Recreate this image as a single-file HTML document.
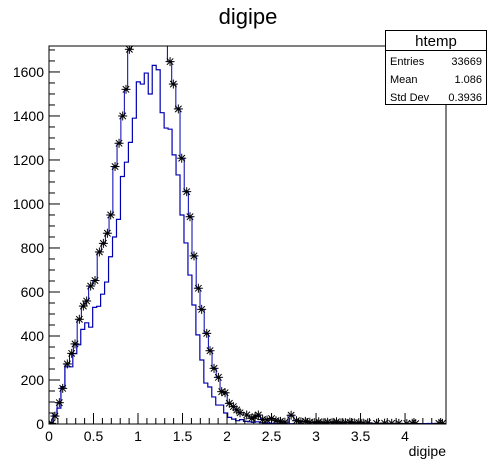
<!DOCTYPE html>
<html><head><meta charset="utf-8"><style>
body{margin:0;background:#fff;}
svg{display:block;font-family:"Liberation Sans",Arial,sans-serif;}
</style></head><body>
<svg id="c" width="496" height="472" viewBox="0 0 496 472" xmlns="http://www.w3.org/2000/svg">
<rect width="496" height="472" fill="#fff"/>
<text x="248" y="24" font-size="22" text-anchor="middle">digipe</text>
<defs><clipPath id="pc"><rect x="49" y="46" width="397" height="378"/></clipPath></defs>
<g id="plot" clip-path="url(#pc)"></g>
<g id="axes"></g>
<rect x="49" y="46" width="397" height="378" fill="none" stroke="#000" stroke-width="1"/>
<g>
<rect x="385.5" y="30.5" width="101" height="74" fill="#fff" stroke="#000"/>
<line x1="385.5" y1="50.5" x2="486.5" y2="50.5" stroke="#000"/>
<text x="436" y="46" font-size="15" text-anchor="middle">htemp</text>
<text x="390" y="65" font-size="11">Entries</text><text x="482" y="65" font-size="11" text-anchor="end">33669</text>
<text x="390" y="83" font-size="11">Mean</text><text x="482" y="83" font-size="11" text-anchor="end">1.086</text>
<text x="390" y="101" font-size="11">Std Dev</text><text x="482" y="101" font-size="11" text-anchor="end">0.3936</text>
</g>
<text x="446" y="456" font-size="14" text-anchor="end">digipe</text>
</svg>
<script>
const xTicks=[0,0.5,1,1.5,2,2.5,3,3.5,4];
const xTickLabels=["0","0.5","1","1.5","2","2.5","3","3.5","4"];
const yTicks=[0,200,400,600,800,1000,1200,1400,1600];
const yTickLabels=["0","200","400","600","800","1000","1200","1400","1600"];
const binWidth=0.0446;
const blueCounts=[5,40,72,170,260,260,320,360,430,460,440,530,535,590,645,760,850,930,1125,1190,1280,1390,1555,1545,1595,1500,1630,1610,1415,1345,1340,1223,1132,950,823,677,541,405,291,186,168,123,86,86,50,30,22,15,20,12,10,8,10,6,5,4,3,3,2,2,1,1,0,1,0,1,0,0,1,0,0,0,0,0,0,0,0,0,0,0,0,0,0,0,0,0,0,0,0,0,0,0,0,0,0,0,0,0,0,0];
const starX=[0.030,0.067,0.116,0.154,0.206,0.255,0.292,0.341,0.386,0.423,0.468,0.517,0.566,0.611,0.656,0.693,0.742,0.787,0.828,0.865,0.903,0.95,1.0,1.05,1.1,1.15,1.2,1.25,1.30,1.360,1.397,1.453,1.491,1.547,1.584,1.629,1.678,1.715,1.772,1.809,1.854,1.903,1.940,1.978,2.026,2.071,2.109,2.146,2.221,2.278,2.315,2.352,2.40,2.45,2.50,2.55,2.60,2.65,2.72,2.78,2.83,2.88,2.93,2.98,3.03,3.08,3.13,3.18,3.23,3.28,3.33,3.38,3.43,3.48,3.53,3.58,3.68,3.77,3.85,3.93,4.02,4.08,4.12,4.38,4.42];
const starY=[3,36,97,162,273,321,364,476,536,559,627,652,782,821,867,950,1170,1276,1400,1521,1703,1900,1900,1900,1900,1900,1900,1900,1900,1647,1545,1432,1208,1056,942,764,617,521,412,333,253,212,147,142,94,79,64,51,41,26,33,41,20,18,25,15,12,8,40,15,10,12,8,6,10,5,8,6,10,5,6,8,5,6,4,5,3,4,3,3,2,3,2,3,3];
const NS="http://www.w3.org/2000/svg";
const X0=49,X1=446,Y0=424,Y1=46,XMAX=4.46,YMAX=1718;
function sx(v){return X0+v/XMAX*(X1-X0);}
function sy(v){return Y0-v/YMAX*(Y0-Y1);}
function mk(tag,attrs,parent){const e=document.createElementNS(NS,tag);for(const k in attrs)e.setAttribute(k,attrs[k]);parent.appendChild(e);return e;}
const plot=document.getElementById('plot'),axes=document.getElementById('axes');
// blue histogram
let d="M"+sx(0)+","+sy(0);
blueCounts.forEach((c,i)=>{d+=" L"+sx(i*binWidth)+","+sy(c)+" L"+sx((i+1)*binWidth)+","+sy(c);});
const bh=mk('path',{d:d,fill:'none',stroke:'#0000b0','stroke-width':1.2},plot);


// star step line
let d2="M"+sx(starX[0])+","+sy(starY[0]);
for(let i=1;i<starX.length;i++){const m=(starX[i-1]+starX[i])/2;d2+=" L"+sx(m)+","+sy(starY[i-1])+" L"+sx(m)+","+sy(starY[i])+" L"+sx(starX[i])+","+sy(starY[i]);}
const sl=mk('path',{d:d2,fill:'none',stroke:'#0000b0','stroke-width':1},plot);


starX.forEach((x,i)=>{
  const cx=sx(x),cy=sy(starY[i]),r=4.5,r2=3.2;
  const g=mk('g',{stroke:'#000','stroke-width':1},plot);
  
  
  mk('line',{x1:cx-r,y1:cy,x2:cx+r,y2:cy},g);
  mk('line',{x1:cx,y1:cy-r,x2:cx,y2:cy+r},g);
  mk('line',{x1:cx-r2,y1:cy-r2,x2:cx+r2,y2:cy+r2},g);
  mk('line',{x1:cx-r2,y1:cy+r2,x2:cx+r2,y2:cy-r2},g);
});
// x ticks
for(let k=0;k<=44;k++){const v=k*0.1;const x=sx(v);const maj=k%5==0;
  const t=mk('line',{x1:x,y1:Y0,x2:x,y2:Y0-(maj?11:6),stroke:'#000'},axes);
  
  }
xTicks.forEach((v,i)=>{const t=mk('text',{x:sx(v),y:441,'font-size':14,'text-anchor':'middle'},axes);t.textContent=xTickLabels[i];
  
  });
// y ticks
for(let v=0;v<=YMAX;v+=50){const y=sy(v);const maj=v%200==0;
  const t=mk('line',{x1:X0,y1:y,x2:X0+(maj?11:6),y2:y,stroke:'#000'},axes);
  
  }
yTicks.forEach((v,i)=>{const t=mk('text',{x:44,y:sy(v)+5,'font-size':14,'text-anchor':'end'},axes);t.textContent=yTickLabels[i];
  
  });
</script>
</body></html>
